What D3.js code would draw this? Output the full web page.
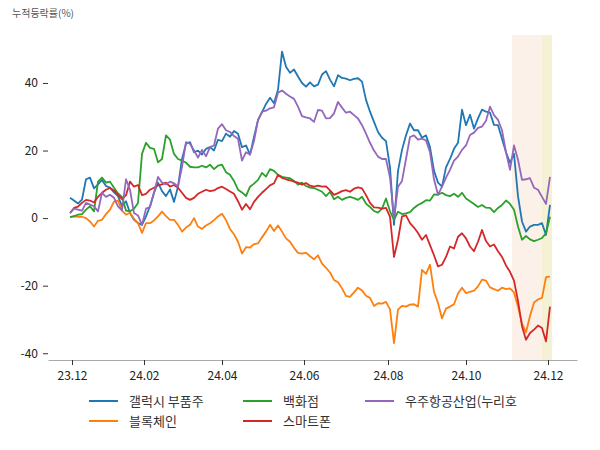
<!DOCTYPE html>
<html>
<head>
<meta charset="utf-8">
<script src="https://cdn.jsdelivr.net/npm/d3@7"></script>
<style>
body { margin: 0; background: #fff; }
text { font-family: "Noto Sans CJK KR", "Noto Sans", sans-serif; }
</style>
</head>
<body>
<div id="chart"></div>
<script>
var w = 600;
var h = 450;

// series names (legend order) and colours
var names = ["갤럭시 부품주", "블록체인", "백화점", "스마트폰", "우주항공산업(누리호"];
var colors = ["#1f77b4", "#ff7f0e", "#2ca02c", "#d62728", "#9467bd"];

// cumulative change (%), one value per sample from 23.12 to 24.12
var galaxy = [6.0, 5.2, 4.3, 5.5, 11.5, 12.0, 8.8, 10.0, 11.3, 9.5, 9.0, 7.6, 6.5, 3.5, 5.0, 1.5, -0.5, -1.5, -2.0, 0.5,
	3.5, 7.5, 10.5, 8.0, 6.5, 8.5, 4.8, 9.3, 17.5, 22.0, 22.5, 19.5, 20.0, 18.8, 20.5, 21.0, 20.0, 23.2, 22.8, 25.0,
	24.1, 25.8, 25.0, 21.0, 21.5, 18.8, 24.0, 29.0, 31.3, 33.8, 35.6, 34.0, 38.0, 49.3, 44.8, 43.0, 44.0, 41.9, 40.0, 38.9,
	40.2, 39.0, 39.5, 42.5, 43.5, 41.0, 39.0, 42.3, 41.5, 41.3, 40.8, 41.2, 41.4, 40.4, 35.0, 31.5, 28.5, 25.5, 23.8, 22.8,
	15.0, -2.0, 14.0, 20.2, 24.5, 28.0, 26.0, 26.0, 23.8, 24.5, 21.0, 14.0, 10.5, 9.3, 15.0, 17.5, 20.5, 22.3, 32.1, 27.5,
	30.6, 26.5, 29.5, 32.1, 31.5, 31.2, 27.6, 27.5, 23.5, 19.5, 16.4, 19.0, 6.5, -1.0, -4.0, -2.5, -2.0, -2.0, -1.5, -5.0,
	3.9];
var blockchain = [0.3, 0.5, 0.4, 0.4, 0.0, -1.0, -2.5, -0.8, -0.5, 1.2, 2.5, 4.9, 5.2, 2.2, 1.0, 1.6, -0.2, -1.5, -4.4, -1.5,
	-1.5, -0.7, 0.5, 1.9, 0.6, -0.5, -0.5, -2.0, -4.0, -2.8, -2.0, 0.0, -2.5, -3.2, -2.2, -1.5, -0.6, 0.5, 1.3, -0.6,
	-3.2, -4.8, -7.0, -10.5, -8.6, -8.7, -7.7, -7.5, -5.7, -4.0, -2.0, -3.8, -2.2, -4.0, -6.0, -7.0, -8.8, -10.3, -10.5, -10.2,
	-11.3, -12.2, -11.0, -13.5, -14.7, -16.1, -18.3, -19.0, -20.8, -23.0, -23.3, -22.0, -20.6, -21.4, -23.0, -23.6, -26.0, -25.2, -25.3, -24.8,
	-27.0, -37.0, -27.1, -26.0, -26.2, -25.6, -25.5, -26.2, -15.3, -16.5, -13.8, -21.8, -25.1, -29.7, -26.8, -26.2, -25.5, -22.3, -20.6, -22.2,
	-21.8, -21.5, -20.2, -18.2, -18.5, -20.5, -21.0, -21.5, -20.6, -21.0, -20.8, -22.0, -26.2, -31.2, -33.8, -29.0, -25.0, -24.1, -23.6, -17.5,
	-17.3];
var department = [0.3, 0.6, 1.0, 1.2, 2.5, 3.5, 2.0, 10.8, 12.0, 10.5, 10.8, 9.0, 7.3, 6.3, 2.2, 2.0, 2.8, 4.5, 19.0, 22.3,
	20.8, 20.5, 16.5, 17.5, 24.5, 23.2, 19.0, 17.5, 17.0, 16.4, 15.2, 15.0, 15.0, 15.5, 15.0, 15.8, 14.5, 15.5, 15.8, 13.6,
	12.8, 11.0, 8.4, 7.6, 6.5, 9.3, 10.2, 11.3, 13.4, 12.3, 14.5, 14.0, 12.8, 12.2, 12.0, 11.8, 11.0, 9.9, 10.5, 9.5,
	9.0, 8.9, 8.4, 7.8, 6.5, 7.8, 5.6, 6.3, 5.4, 6.0, 6.3, 5.9, 5.4, 6.3, 4.3, 3.3, 2.1, 1.6, 2.8, 5.8,
	2.0, -0.5, 1.9, 1.2, 1.4, 1.8, 3.0, 3.9, 4.5, 5.3, 5.2, 7.0, 6.9, 7.5, 6.8, 6.5, 7.2, 6.3, 7.5, 5.8,
	5.0, 4.2, 3.3, 3.9, 3.1, 3.0, 1.8, 3.0, 3.9, 5.2, 4.2, 2.5, -2.5, -6.4, -5.3, -6.3, -6.8, -6.4, -5.9, -4.5,
	0.4];
var smartphone = [1.5, 3.0, 3.4, 4.5, 5.4, 5.2, 4.6, 6.3, 7.5, 8.4, 8.9, 8.2, 6.9, 5.6, 6.8, 10.8, 9.3, 9.8, 6.8, 7.2,
	8.4, 9.0, 9.7, 10.0, 10.5, 9.3, 9.8, 9.0, 7.5, 6.0, 5.4, 6.0, 7.2, 7.8, 8.4, 8.0, 8.2, 8.9, 9.3, 8.6,
	7.9, 7.2, 5.0, 2.5, 4.2, 2.6, 4.8, 6.3, 7.5, 8.6, 9.7, 10.3, 12.8, 11.9, 11.5, 11.2, 10.8, 10.5, 9.9, 10.4,
	9.6, 9.3, 9.6, 9.3, 9.4, 8.2, 6.9, 7.4, 8.0, 8.3, 7.8, 8.7, 9.1, 8.8, 6.8, 4.5, 3.2, 3.1, 2.8, 3.0,
	0.4, -11.5, -6.4, 0.5, 0.8, -1.5, -2.8, -4.4, -6.4, -5.0, -8.0, -11.0, -14.3, -13.8, -11.5, -8.4, -9.0, -5.5, -4.5, -6.0,
	-8.4, -9.8, -7.0, -3.5, -6.8, -8.4, -7.8, -9.8, -11.5, -14.0, -15.9, -18.5, -24.5, -32.0, -36.0, -34.0, -33.0, -31.8, -32.5, -36.5,
	-26.2];
var aerospace = [1.5, 2.8, 2.5, 2.2, 4.5, 4.0, 3.5, 2.0, 7.5, 6.3, 6.9, 6.0, 3.5, 2.3, 11.5, 8.4, 1.5, 0.8, -2.0, 2.8,
	3.3, 7.5, 12.2, 10.5, 10.0, 10.8, 10.3, 9.3, 15.2, 22.5, 22.0, 20.0, 17.9, 20.2, 18.3, 21.0, 21.5, 26.5, 27.8, 26.0,
	25.5, 24.3, 23.5, 17.0, 19.5, 18.8, 22.8, 29.1, 31.5, 31.8, 32.5, 32.8, 37.1, 37.8, 36.8, 36.0, 35.3, 33.0, 30.2, 29.8,
	29.5, 28.5, 32.0, 31.8, 29.5, 29.6, 31.0, 34.4, 32.7, 31.2, 31.5, 30.5, 29.5, 27.5, 25.0, 22.3, 20.0, 18.2, 17.5, 17.5,
	12.0, 0.0, 9.3, 11.0, 17.5, 24.0, 24.5, 23.2, 23.5, 23.0, 19.5, 11.5, 6.9, 9.3, 12.0, 14.3, 17.0, 18.2, 20.2, 21.5,
	24.6, 25.3, 26.7, 27.1, 28.8, 33.0, 30.5, 29.1, 26.0, 19.5, 14.3, 21.5, 17.3, 11.3, 11.5, 11.8, 9.0, 8.4, 6.3, 4.2,
	12.2];

// x ticks (sample index where each month starts) and labels
var tickPos = [0.5, 18.5, 38, 58.5, 79.5, 99, 119.5];
var tickLabels = ["23.12", "24.02", "24.04", "24.06", "24.08", "24.10", "24.12"];
var yTicks = [-40, -20, 0, 20, 40];

// highlighted periods, in sample index
var bandStart = [110.5, 118];
var bandEnd = [118, 120.5];
var bandColors = ["#fbf1e8", "#f5f1d5"];

var dataset = [galaxy, blockchain, department, smartphone, aerospace];

var svg = d3.select("#chart")
	.append("svg")
	.attr("width", w)
	.attr("height", h);

var xScale = d3.scaleLinear()
	.domain([-5.5, 126.75])
	.range([48, 577]);

var yScale = d3.scaleLinear()
	.domain([-42, 54.2])
	.range([360, 35]);

// shaded periods
svg.selectAll("rect.band")
	.data(bandStart)
	.enter()
	.append("rect")
	.attr("class", "band")
	.attr("x", function(d) { return xScale(d); })
	.attr("y", yScale(54.2))
	.attr("width", function(d, i) { return xScale(bandEnd[i]) - xScale(d); })
	.attr("height", yScale(-42) - yScale(54.2))
	.attr("fill", function(d, i) { return bandColors[i]; });

// axes
var xAxis = d3.axisBottom(xScale)
	.tickValues(tickPos)
	.tickFormat(function(d, i) { return tickLabels[i]; })
	.tickSize(5)
	.tickSizeOuter(0)
	.tickPadding(6);

var gx = svg.append("g")
	.attr("transform", "translate(0,360)")
	.call(xAxis);
gx.select(".domain").attr("stroke", "#aaa");
gx.selectAll(".tick line").attr("stroke", "#333");
gx.selectAll(".tick text").attr("fill", "#222").style("font-size", "12px");

var yAxis = d3.axisLeft(yScale)
	.tickValues(yTicks)
	.tickFormat(function(d) { return String(d); })
	.tickSize(5)
	.tickPadding(5);

var gy = svg.append("g")
	.attr("transform", "translate(48,0)")
	.call(yAxis);
gy.select(".domain").remove();
gy.selectAll(".tick line").attr("stroke", "#333");
gy.selectAll(".tick text").attr("fill", "#222").style("font-size", "12px");

svg.append("text")
	.attr("x", 12)
	.attr("y", 17)
	.attr("fill", "#555")
	.style("font-size", "10px")
	.text("누적등락률(%)");

// lines
var line = d3.line()
	.x(function(d, i) { return xScale(i); })
	.y(function(d) { return yScale(d); });

svg.selectAll("path.series")
	.data(dataset)
	.enter()
	.append("path")
	.attr("class", "series")
	.attr("d", line)
	.attr("fill", "none")
	.attr("stroke", function(d, i) { return colors[i]; })
	.attr("stroke-width", 1.8)
	.attr("stroke-linejoin", "round");

// legend, filled column by column
var legendX = [89, 243, 365];
var legendY = [401, 421];

var legend = svg.selectAll("g.legend")
	.data(names)
	.enter()
	.append("g")
	.attr("class", "legend")
	.attr("transform", function(d, i) {
		return "translate(" + legendX[Math.floor(i / 2)] + "," + legendY[i % 2] + ")";
	});

legend.append("line")
	.attr("x1", 0)
	.attr("x2", 29)
	.attr("stroke", function(d, i) { return colors[i]; })
	.attr("stroke-width", 2);

legend.append("text")
	.attr("x", 40)
	.attr("dy", "0.35em")
	.attr("fill", "#333")
	.style("font-size", "13px")
	.text(function(d) { return d; });
</script>
</body>
</html>
